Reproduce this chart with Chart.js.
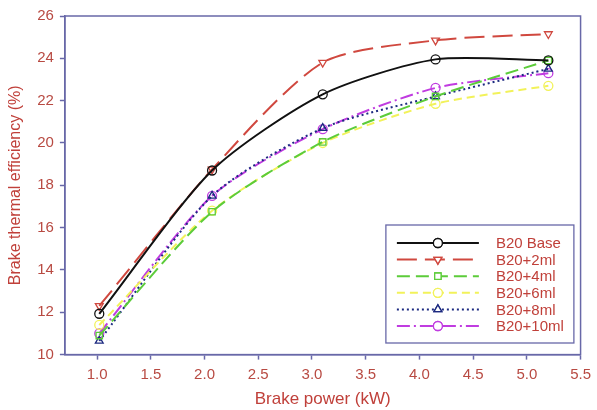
<!DOCTYPE html>
<html lang="en">
<head>
    <meta charset="UTF-8">
    <title>Brake thermal efficiency</title>
    <script src="https://cdn.jsdelivr.net/npm/chart.js"></script>
    <style>
        body {
            margin: 0;
            padding: 0;
            background-color: #fff;
        }
        .wrap {
            width: 597px;
            height: 410px;
        }
    </style>
</head>
<body>
    <div class="wrap">
        <canvas id="bteChart" width="597" height="410"></canvas>
    </div>

    <script>
        // Brake power (kW) at each test point
        const power = [1.02, 2.07, 3.1, 4.15, 5.2];

        // Brake thermal efficiency (%) per blend
        const b20Base = [11.93, 18.7, 22.3, 23.95, 23.9];
        const b20Plus2 = [12.3, 18.75, 23.8, 24.85, 25.15];
        const b20Plus4 = [10.9, 16.75, 20.05, 22.2, 23.9];
        const b20Plus6 = [11.4, 16.8, 20.0, 21.85, 22.7];
        const b20Plus8 = [10.65, 17.5, 20.7, 22.2, 23.5];
        const b20Plus10 = [11.0, 17.5, 20.65, 22.6, 23.3];

        const xTicks = [1.0, 1.5, 2.0, 2.5, 3.0, 3.5, 4.0, 4.5, 5.0, 5.5];

        const tickRed = '#b84a42';
        const axisBlue = '#6868a8';
        const fontFamily = '"Liberation Sans", Arial, sans-serif';

        function toPoints(values) {
            return values.map((v, i) => ({ x: power[i], y: v }));
        }

        function series(label, values, color, dash, style, rotation) {
            return {
                label: label,
                data: toPoints(values),
                borderColor: color,
                backgroundColor: 'rgba(255,255,255,0)',
                borderWidth: 2,
                borderDash: dash,
                tension: 0.25,
                pointStyle: style,
                pointRotation: rotation || 0,
                pointRadius: 4.5,
                pointBorderColor: color,
                pointBorderWidth: 1.3,
                pointBackgroundColor: 'rgba(255,255,255,0)'
            };
        }

        // frame round the plot and the boxed legend in the lower right
        const framePlugin = {
            id: 'frameAndLegend',
            afterDraw(chart) {
                const ctx = chart.ctx;
                const a = chart.chartArea;
                ctx.save();
                ctx.strokeStyle = axisBlue;
                ctx.lineWidth = 1.5;
                ctx.strokeRect(a.left, a.top, a.right - a.left, a.bottom - a.top);

                // legend box
                const bx = a.left + 321, by = a.top + 209, bw = 188, bh = 118;
                ctx.fillStyle = '#fff';
                ctx.fillRect(bx, by, bw, bh);
                ctx.lineWidth = 1.3;
                ctx.strokeRect(bx, by, bw, bh);
                chart.data.datasets.forEach((ds, i) => {
                    const y = by + 18 + i * 16.6;
                    ctx.strokeStyle = ds.borderColor;
                    ctx.lineWidth = 2;
                    ctx.setLineDash(ds.borderDash || []);
                    ctx.beginPath();
                    ctx.moveTo(bx + 11, y);
                    ctx.lineTo(bx + 93, y);
                    ctx.stroke();
                    ctx.setLineDash([]);
                    ctx.fillStyle = '#fff';
                    ctx.lineWidth = 1.3;
                    Chart.helpers.drawPoint(ctx, {
                        pointStyle: ds.pointStyle,
                        rotation: ds.pointRotation,
                        radius: 4.5,
                        borderWidth: 1.3
                    }, bx + 52, y);
                    ctx.fill();
                    ctx.stroke();
                    ctx.fillStyle = '#c0403a';
                    ctx.font = '15px ' + fontFamily;
                    ctx.textBaseline = 'middle';
                    ctx.fillText(ds.label, bx + 110, y + 1);
                });
                ctx.restore();
            }
        };

        window.onload = function() {
            const ctx = document.getElementById('bteChart').getContext('2d');
            new Chart(ctx, {
                type: 'line',
                data: {
                    datasets: [
                        series('B20 Base', b20Base, '#111111', [], 'circle'),
                        series('B20+2ml', b20Plus2, '#d0483f', [20, 8], 'triangle', 180),
                        series('B20+4ml', b20Plus4, '#5ccc3a', [13, 6], 'rect'),
                        series('B20+6ml', b20Plus6, '#f2f25a', [8, 5], 'circle'),
                        series('B20+8ml', b20Plus8, '#1c2a80', [2, 3], 'triangle'),
                        series('B20+10ml', b20Plus10, '#c03ce0', [13, 4, 2, 4], 'circle')
                    ]
                },
                options: {
                    responsive: false,
                    animation: false,
                    layout: {
                        padding: { left: 2, top: 16, right: 0, bottom: 0 }
                    },
                    plugins: {
                        legend: { display: false },
                        tooltip: { enabled: false }
                    },
                    scales: {
                        x: {
                            type: 'linear',
                            min: 0.7,
                            max: 5.5,
                            afterBuildTicks: axis => {
                                axis.ticks = xTicks.map(v => ({ value: v }));
                            },
                            grid: {
                                drawOnChartArea: false,
                                tickLength: 5,
                                color: axisBlue,
                                tickWidth: 1.5
                            },
                            border: { color: axisBlue, width: 1.5 },
                            ticks: {
                                color: tickRed,
                                font: { family: fontFamily, size: 15 },
                                padding: 6,
                                maxRotation: 0,
                                callback: v => v.toFixed(1)
                            },
                            title: {
                                display: true,
                                text: 'Brake power (kW)',
                                color: '#c0403a',
                                font: { family: fontFamily, size: 17 },
                                padding: { top: 0, bottom: 0 }
                            }
                        },
                        y: {
                            min: 10,
                            max: 26,
                            ticks: {
                                stepSize: 2,
                                color: tickRed,
                                font: { family: fontFamily, size: 15 },
                                padding: 6
                            },
                            grid: {
                                drawOnChartArea: false,
                                tickLength: 5,
                                color: axisBlue,
                                tickWidth: 1.5
                            },
                            border: { color: axisBlue, width: 1.5 },
                            title: {
                                display: true,
                                text: 'Brake thermal efficiency (%)',
                                color: '#c0403a',
                                font: { family: fontFamily, size: 16 },
                                padding: { top: 4, bottom: 6 }
                            }
                        }
                    }
                },
                plugins: [framePlugin]
            });
        };
    </script>
</body>
</html>
